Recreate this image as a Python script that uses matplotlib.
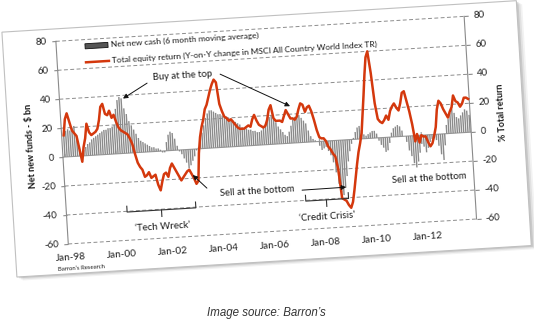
import numpy as np
import matplotlib
matplotlib.use('Agg')
import matplotlib.pyplot as plt
from matplotlib.transforms import Affine2D
from matplotlib.patches import Rectangle
import mpl_toolkits.axisartist.floating_axes as floating_axes
from mpl_toolkits.axisartist.grid_finder import FixedLocator, DictFormatter

plt.rcParams['font.family'] = ['Lato', 'DejaVu Sans']

# monthly data, Jan-98 .. Dec-13
net_cash = [
    16, 18, 19, 18, 20, 21, 12, 6, 2, 4, 6, 8,            # 1998
    9, 11, 12, 13, 14, 15, 16, 17, 17, 18, 18, 19,        # 1999
    20, 31, 37, 39, 38, 31, 27, 22, 19, 16, 13, 10,       # 2000
    8, 7, 6, 5, 4, 3, 3, 2, 2, 1, -1, -1,                 # 2001
    6, 11, 13, 12, 8, 3, -1, -3, -6, -9, -13, -11,        # 2002
    -8, -5, -1, 1, 5, 11, 16, 21, 24, 26, 26, 25,         # 2003
    24, 23, 23, 22, 21, 21, 20, 19, 18, 17, 16, 15,       # 2004
    13, 12, 12, 11, 11, 10, 10, 9, 9, 10, 12, 14,         # 2005
    17, 19, 20, 18, 15, 12, 10, 8, 6, 5, 8, 12,           # 2006
    16, 18, 20, 19, 17, 15, 13, 8, 4, 2, 1, 0,            # 2007
    -3, -6, -5, -4, -7, -10, -15, -22, -30, -36, -38, -33,  # 2008
    -25, -15, -8, -3, 1, 5, 8, 9, 6, 3, 2, 3,             # 2009
    4, 5, 5, 3, -2, -5, -7, -10, -9, -4, 3, 6,            # 2010
    7, 8, 7, 4, 0, -4, -10, -14, -19, -22, -18, -12,      # 2011
    -6, -8, -12, -9, -5, -3, -2, -4, -8, -14, -18, -8,    # 2012
    6, 10, 14, 17, 14, 11, 10, 12, 14, 16, 15, 12,        # 2013
]
equity_return = [
    15, 26, 30, 24, 18, 16, 14, 5, -4, 6, 12, 22,         # 1998
    16, 14, 15, 16, 18, 24, 33, 35, 28, 27, 30, 25,       # 1999
    27, 22, 18, 16, 15, 14, 13, 10, 6, -1, -7, -10,       # 2000
    -12, -17, -16, -14, -18, -17, -16, -23, -27, -21, -16, -15,  # 2001
    -18, -12, -9, -12, -15, -18, -21, -19, -17, -15, -14, -17,   # 2002
    -20, -24, -22, -3, 8, 15, 20, 27, 30, 35, 40, 44,     # 2003
    47, 45, 30, 25, 21, 20, 18, 19, 17, 15, 13, 12,       # 2004
    12, 12, 13, 14, 13, 18, 21, 17, 14, 13, 12, 13,       # 2005
    17, 24, 27, 18, 16, 16, 16, 15, 19, 23, 20, 17,       # 2006
    17, 16, 18, 23, 27, 26, 21, 24, 25, 21, 15, 8,        # 2007
    3, 2, 2, 0, -4, -6, -9, -11, -20, -40, -41, -42,      # 2008
    -45, -47, -43, -35, -26, -17, -9, -3, 4, 17, 30, 44,  # 2009
    56, 60, 45, 24, 13, 11, 10, 12, 15, 12, 18, 21,       # 2010
    23, 20, 18, 23, 30, 31, 24, 17, 8, -4, 1, -5,         # 2011
    0, -1, -1, -5, -8, -6, -1, 5, 17, 23, 21, 17,         # 2012
    14, 11, 15, 18, 26, 22, 21, 18, 20, 24, 24, 23,       # 2013
]
tick_years = [1998, 2000, 2002, 2004, 2006, 2008, 2010, 2012]
tick_labels = ['Jan-98', 'Jan-00', 'Jan-02', 'Jan-04', 'Jan-06', 'Jan-08', 'Jan-10', 'Jan-12']
y_ticks = [-60, -40, -20, 0, 20, 40, 60, 80]

months = 1998 + np.arange(len(net_cash)) / 12.0
x_left, x_right = 1997.92, 2013.96
tilt = 3.5

fig = plt.figure(figsize=(5.34, 3.24), dpi=100)
W, H = 534, 324

# rotated frame: 25.5 px per year, 1.45 px per unit
tr = Affine2D().translate(-1998, 0).scale(25.5, 1.45).rotate_deg(tilt)
grid_helper = floating_axes.GridHelperCurveLinear(
    tr, extremes=(x_left, x_right, -60, 80),
    grid_locator1=FixedLocator(tick_years),
    tick_formatter1=DictFormatter(dict(zip(tick_years, tick_labels))),
    grid_locator2=FixedLocator(y_ticks),
    tick_formatter2=DictFormatter({v: str(v) for v in y_ticks}))

corners = tr.transform([(x_left, -60), (x_right, -60), (x_right, 80), (x_left, 80)])
lo, hi = corners.min(0), corners.max(0)
size = (hi - lo) * 1.02
mid = (hi + lo) / 2
origin = (65, H - 157)
rect = [(origin[0] + mid[0] - size[0] / 2) / W, (origin[1] + mid[1] - size[1] / 2) / H,
        size[0] / W, size[1] / H]
ax = fig.add_axes(rect, axes_class=floating_axes.FloatingAxes, grid_helper=grid_helper)
ax.patch.set_facecolor('none')
aux = ax.get_aux_axes(tr)

# card with shadow
for off, a in [(0.22, 0.10), (0.15, 0.15), (0.08, 0.25)]:
    aux.add_patch(Rectangle((1995.83 + off, -80.6 - off * 12), 20.21, 169.2,
                            facecolor='#808080', edgecolor='none', alpha=a,
                            zorder=0, clip_on=False))
aux.add_patch(Rectangle((1995.83, -80.6), 20.21, 169.2, facecolor='white',
                        edgecolor='#c0c0c0', lw=0.8, zorder=0.1, clip_on=False))

# grid
aux.hlines([v for v in y_ticks if v != 0], x_left, x_right, colors='#8c8c8c',
           linestyles=(0, (4, 2.5)), lw=0.7, zorder=1)
aux.hlines(0, x_left, x_right, colors='#9a9a9a', lw=0.8, zorder=1)
aux.vlines(tick_years, 0, 2.2, colors='#9a9a9a', lw=0.8, zorder=1)

aux.bar(months, net_cash, width=0.055, color='#8a8a8a', zorder=2)
aux.plot(months, equity_return, color='#d4380d', lw=1.8, zorder=3,
         solid_joinstyle='round')

# axes styling
for side in ['left', 'right']:
    axis = ax.axis[side]
    axis.line.set_color('#8a8a8a')
    axis.major_ticks.set_color('#8a8a8a')
    axis.major_ticks.set_ticksize(3)
    axis.major_ticks.set_tick_out(True)
    axis.major_ticklabels.set_fontsize(7)
    axis.major_ticklabels.set_color('#222222')
ax.axis['right'].major_ticklabels.set_visible(True)
ax.axis['top'].set_visible(False)
ax.axis['bottom'].line.set_visible(False)
ax.axis['bottom'].major_ticks.set_visible(False)
ax.axis['bottom'].major_ticklabels.set_fontsize(7.2)
ax.axis['bottom'].major_ticklabels.set_color('#222222')
ax.axis['bottom'].major_ticklabels.set_pad(7)


def note(x, y, s, **kw):
    kw.setdefault('fontsize', 6.8)
    kw.setdefault('ha', 'center')
    kw.setdefault('va', 'center')
    aux.text(x, y, s, rotation=tilt, rotation_mode='anchor', color='#1a1a1a', **kw)


def arrow(tail, tip):
    aux.annotate('', xy=tip, xytext=tail, annotation_clip=False,
                 arrowprops=dict(arrowstyle='-|>', color='#111111', lw=0.7,
                                 mutation_scale=7, shrinkA=0, shrinkB=0))


# axis titles
aux.text(1996.7, 9, 'Net new funds - $ bn', rotation=90 + tilt, rotation_mode='anchor',
         ha='center', va='center', fontsize=6.5, fontweight='bold', color='#1a1a1a')
aux.text(2015.2, 12.4, '% Total return', rotation=90 + tilt, rotation_mode='anchor',
         ha='center', va='center', fontsize=6.5, fontweight='bold', color='#1a1a1a')

# legend drawn in the rotated frame
aux.add_patch(Rectangle((1999.05, 73.6), 0.9, 3.5, facecolor='#555555',
                        edgecolor='#111111', lw=0.6, zorder=4))
aux.plot([1999.05, 1999.95], [64.3, 64.3], color='#d4380d', lw=1.8, zorder=4)
note(2000.05, 75.3, 'Net new cash (6 month moving average)', fontsize=6, ha='left')
note(2000.05, 64.4, 'Total equity return (Y-on-Y change in MSCI All Country World Index TR)',
     fontsize=6, ha='left')

# annotations
note(2002.8, 51, 'Buy at the top')
arrow((2001.39, 47.4), (2000.41, 37.8))
arrow((2004.27, 50.5), (2006.93, 25.5))
note(2005.43, -31.5, 'Sell at the bottom')
arrow((2003.48, -27.4), (2002.96, -17.8))
arrow((2007.2, -32.8), (2008.93, -32.6))
note(2012.2, -30, 'Sell at the bottom')

for (x0, x1, xc), label in [((2000.3, 2003.0, 2001.65), '\u2018Tech Wreck\u2019'),
                            ((2007.32, 2009.0, 2008.13), '\u2018Credit Crisis\u2019')]:
    aux.plot([x0, x0, x1, x1], [-36.5, -40.5, -40.5, -36.5], color='#333333', lw=0.8,
             clip_on=False, zorder=4)
    aux.plot([xc, xc], [-40.5, -45], color='#333333', lw=0.8, clip_on=False, zorder=4)
    note(xc, -52.5, label, fontsize=7)

note(1997.45, -77, 'Barron\u2019s Research', fontsize=4.3, ha='left')

fig.text(266 / W, 11 / H, 'Image source: Barron\u2019s', ha='center', va='center',
         style='italic', family='Liberation Sans', fontsize=8.3, color='#333333')

fig.savefig('out.png', dpi=100)
